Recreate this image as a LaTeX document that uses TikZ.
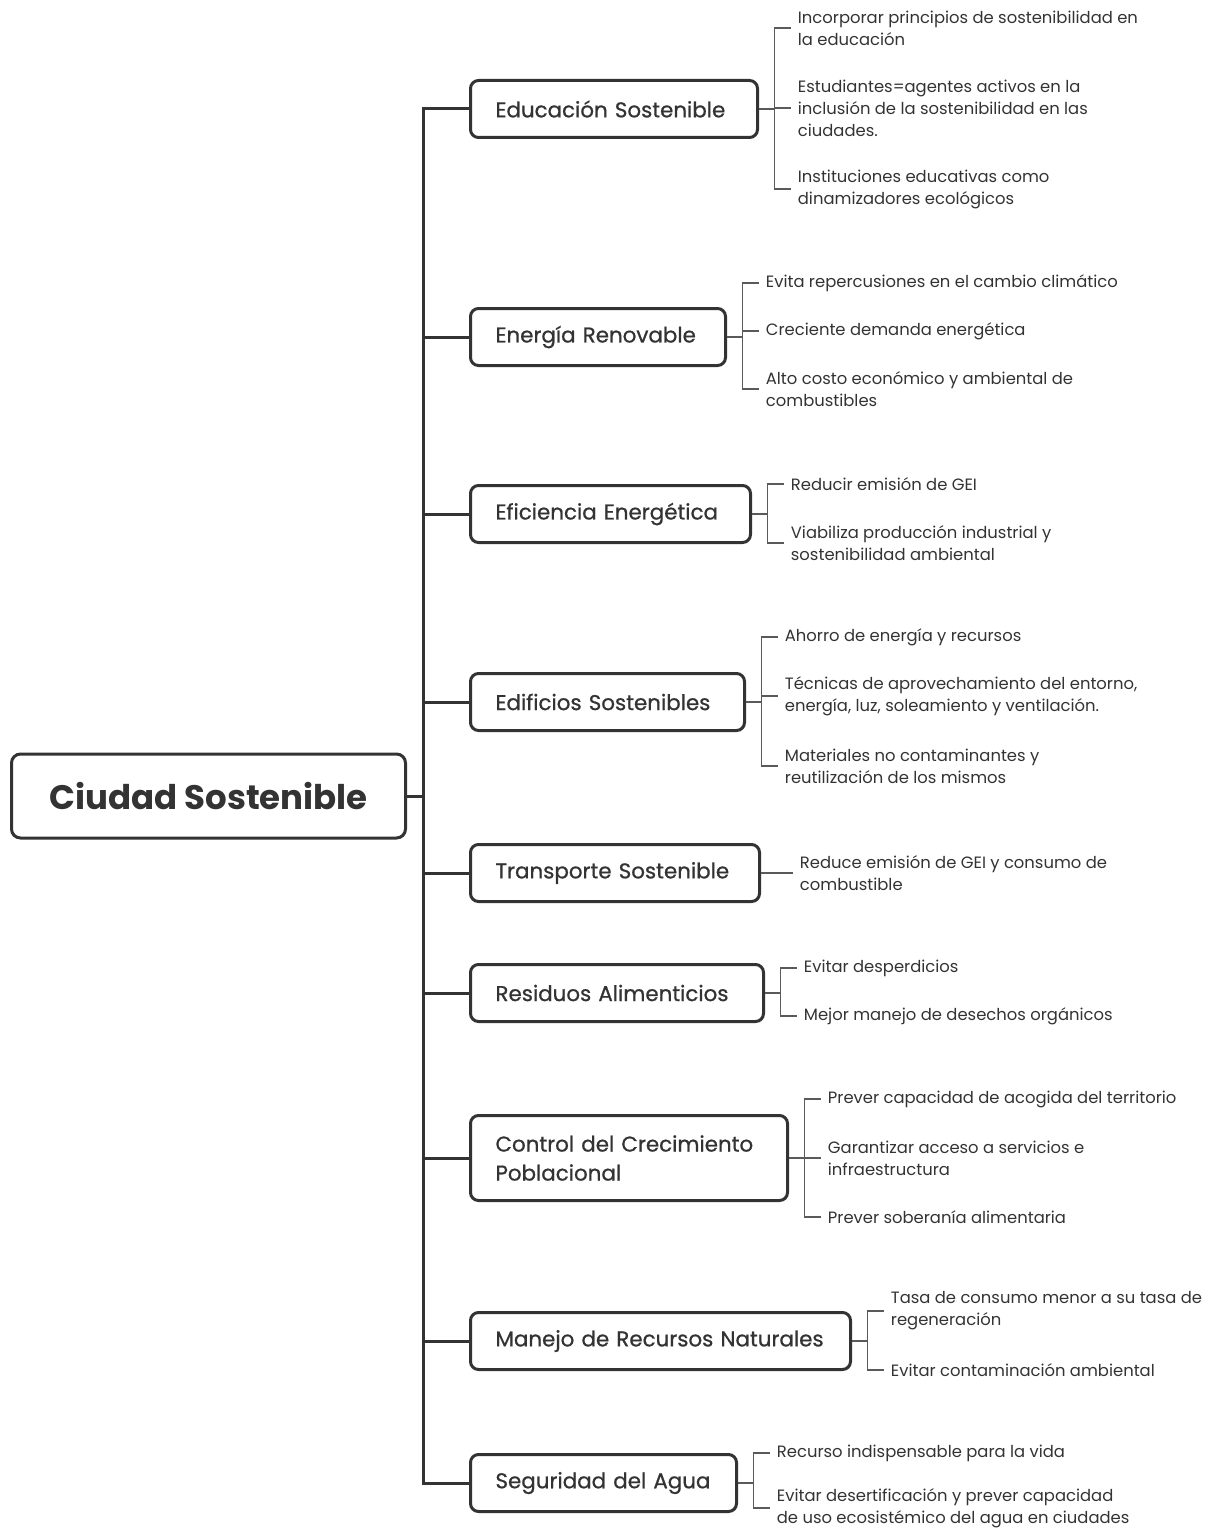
\documentclass[tikz,border=0pt]{standalone}
\usepackage{fontspec}
\setmainfont{Poppins}
\newfontfamily\medfont[FakeBold=0.8]{Poppins}
\usepackage{xcolor}
\usepackage{tikz}
\usetikzlibrary{calc,positioning}
\definecolor{ink}{HTML}{333333}
\definecolor{twig}{HTML}{5A5A5A}
\tikzset{
  trunk/.style={draw=ink, line width=1.5pt},
  twigline/.style={draw=twig, line width=0.6pt},
  hub/.style={draw=ink, line width=1.5pt, rounded corners=4.5pt, minimum width=197pt, minimum height=42pt, text=ink, font=\fontsize{17}{20}\selectfont\bfseries},
  branch/.style={draw=ink, line width=1.5pt, rounded corners=4pt, anchor=west, align=left, inner xsep=12.5pt, inner ysep=0pt, minimum height=28.5pt, text=ink, font=\medfont\fontsize{10.7}{14.5}\selectfont},
  leaf/.style={anchor=west, align=left, inner xsep=3.5pt, inner ysep=0pt, text=ink, font=\fontsize{8.2}{11}\selectfont}
}
\begin{document}
\begin{tikzpicture}[x=0.5pt,y=-0.5pt]
  \useasboundingbox (0,0) rectangle (1210,1530);

  \node[hub] (city) at (208.5,796) {Ciudad Sostenible};
  \coordinate (t) at (423,796);

  \node[branch, text width=118.5pt] (e1) at (469,109) {Educación Sostenible};
  \node[branch, text width=102.5pt] (e2) at (469,337) {Energía Renovable};
  \node[branch, text width=115pt] (e3) at (469,514) {Eficiencia Energética};
  \node[branch, text width=112pt] (e4) at (469,702) {Edificios Sostenibles};
  \node[branch, text width=119.5pt] (e5) at (469,873) {Transporte Sostenible};
  \node[branch, text width=121.5pt] (e6) at (469,993) {Residuos Alimenticios};
  \node[branch, text width=133.5pt, minimum height=42.5pt] (e7) at (469,1158) {Control del Crecimiento\\Poblacional};
  \node[branch, text width=165pt] (e8) at (469,1341) {Manejo de Recursos Naturales};
  \node[branch, text width=108pt] (e9) at (469,1483) {Seguridad del Agua};

  \draw[trunk] (city.east) -- (t);
  \draw[trunk] (e1.west) -| (t) |- (e9.west);
  \foreach \i in {2,...,8} \draw[trunk] (t |- e\i.west) -- (e\i.west);

  \coordinate (b1) at (774.5,109);
  \node[leaf] (l11) at (790.5,28) {Incorporar principios de sostenibilidad en\\la educación};
  \node[leaf] (l12) at (790.5,108) {Estudiantes=agentes activos en la\\inclusión de la sostenibilidad en las\\ciudades.};
  \node[leaf] (l13) at (790.5,189) {Instituciones educativas como\\dinamizadores ecológicos};
  \draw[twigline] (e1.east) -- (b1);
  \draw[twigline] (l11.west) -| (b1) |- (l13.west);
  \draw[twigline] (b1 |- l12.west) -- (l12.west);

  \coordinate (b2) at (742.5,337);
  \node[leaf] (l21) at (758.5,283) {Evita repercusiones en el cambio climático};
  \node[leaf] (l22) at (758.5,331) {Creciente demanda energética};
  \node[leaf] (l23) at (758.5,389) {Alto costo económico y ambiental de\\combustibles};
  \draw[twigline] (e2.east) -- (b2);
  \draw[twigline] (l21.west) -| (b2) |- (l23.west);
  \draw[twigline] (b2 |- l22.west) -- (l22.west);

  \coordinate (b3) at (767.5,514);
  \node[leaf] (l31) at (783.5,484) {Reducir emisión de GEI};
  \node[leaf] (l32) at (783.5,543) {Viabiliza producción industrial y\\sostenibilidad ambiental};
  \draw[twigline] (e3.east) -- (b3);
  \draw[twigline] (l31.west) -| (b3) |- (l32.west);

  \coordinate (b4) at (761.5,702);
  \node[leaf] (l41) at (777.5,637) {Ahorro de energía y recursos};
  \node[leaf] (l42) at (777.5,696) {Técnicas de aprovechamiento del entorno,\\energía, luz, soleamiento y ventilación.};
  \node[leaf] (l43) at (777.5,766) {Materiales no contaminantes y\\reutilización de los mismos};
  \draw[twigline] (e4.east) -- (b4);
  \draw[twigline] (l41.west) -| (b4) |- (l43.west);
  \draw[twigline] (b4 |- l42.west) -- (l42.west);

  \node[leaf] (l51) at (792.5,873) {Reduce emisión de GEI y consumo de\\combustible};
  \draw[twigline] (e5.east) -- (l51.west);

  \coordinate (b6) at (780.5,993);
  \node[leaf] (l61) at (796.5,968) {Evitar desperdicios};
  \node[leaf] (l62) at (796.5,1016) {Mejor manejo de desechos orgánicos};
  \draw[twigline] (e6.east) -- (b6);
  \draw[twigline] (l61.west) -| (b6) |- (l62.west);

  \coordinate (b7) at (804.5,1158);
  \node[leaf] (l71) at (820.5,1099) {Prever capacidad de acogida del territorio};
  \node[leaf] (l72) at (820.5,1158) {Garantizar acceso a servicios e\\infraestructura};
  \node[leaf] (l73) at (820.5,1217) {Prever soberanía alimentaria};
  \draw[twigline] (e7.east) -- (b7);
  \draw[twigline] (l71.west) -| (b7) |- (l73.west);
  \draw[twigline] (b7 |- l72.west) -- (l72.west);

  \coordinate (b8) at (867.5,1341);
  \node[leaf] (l81) at (883.5,1311) {Tasa de consumo menor a su tasa de\\regeneración};
  \node[leaf] (l82) at (883.5,1370) {Evitar contaminación ambiental};
  \draw[twigline] (e8.east) -- (b8);
  \draw[twigline] (l81.west) -| (b8) |- (l82.west);

  \coordinate (b9) at (753.5,1483);
  \node[leaf] (l91) at (769.5,1453) {Recurso indispensable para la vida};
  \node[leaf] (l92) at (769.5,1508) {Evitar desertificación y prever capacidad\\de uso ecosistémico del agua en ciudades};
  \draw[twigline] (e9.east) -- (b9);
  \draw[twigline] (l91.west) -| (b9) |- (l92.west);
\end{tikzpicture}
\end{document}
